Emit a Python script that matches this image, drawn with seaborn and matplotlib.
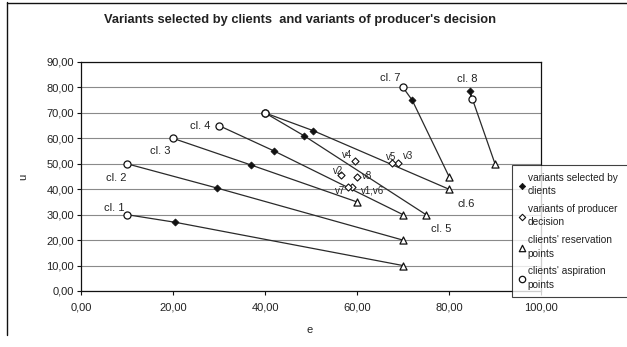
import matplotlib
matplotlib.use("Agg")
import matplotlib.pyplot as plt
import seaborn as sns
import pandas as pd
from matplotlib.lines import Line2D

# ---------------- data ----------------
clients = ["cl. 1", "cl. 2", "cl. 3", "cl. 4", "cl. 5", "cl.6", "cl. 7", "cl. 8"]
asp_e = [10, 10, 20, 30, 40, 40, 70, 85]
asp_u = [30, 50, 60, 65, 70, 70, 80, 75.5]
sel_e = [20.5, 29.5, 37, 42, 48.5, 50.5, 72, 84.5]
sel_u = [27, 40.5, 49.5, 55, 61, 63, 75, 78.5]
res_e = [70, 70, 60, 70, 75, 80, 80, 90]
res_u = [10, 20, 35, 30, 30, 40, 45, 50]

variants = ["v1,v6", "v2", "v3", "v4", "v5", "v7", "v8"]
var_e = [59, 56.5, 69, 59.5, 67.5, 58, 60]
var_u = [41, 45.5, 50.5, 51, 50.5, 41, 45]

x_ticks = [0, 20, 40, 60, 80, 100]
y_ticks = [0, 10, 20, 30, 40, 50, 60, 70, 80, 90]

# ---------------- style ----------------
sns.set_theme(style="white")
plt.rcParams["font.family"] = ["Liberation Sans", "DejaVu Sans"]
TXT = "#222222"

W, H = 627, 347
fig = plt.figure(figsize=(W / 100, H / 100), dpi=100)
ax = fig.add_axes([81 / W, 1 - 291 / H, 460 / W, 229 / H])

# lines per client: aspiration -> selected -> reservation
rows = []
for i, c in enumerate(clients):
    rows.append({"client": c, "order": 0, "e": asp_e[i], "u": asp_u[i]})
    rows.append({"client": c, "order": 1, "e": sel_e[i], "u": sel_u[i]})
    rows.append({"client": c, "order": 2, "e": res_e[i], "u": res_u[i]})
df = pd.DataFrame(rows)
sns.lineplot(data=df, x="e", y="u", units="client", estimator=None, sort=False,
             color="#2a2a2a", lw=0.9, ax=ax, legend=False, zorder=3)

sns.scatterplot(x=sel_e, y=sel_u, marker="D", s=13, color="#111111",
                edgecolor="#111111", linewidth=0.5, ax=ax, zorder=5,
                label="variants selected by\nclients")
sns.scatterplot(x=var_e, y=var_u, marker="D", s=13, color="white",
                edgecolor="#111111", linewidth=0.8, ax=ax, zorder=5,
                label="variants of producer\ndecision")
sns.scatterplot(x=res_e, y=res_u, marker="^", s=26, color="white",
                edgecolor="#111111", linewidth=0.9, ax=ax, zorder=5,
                label="clients' reservation\npoints")
sns.scatterplot(x=asp_e, y=asp_u, marker="o", s=26, color="white",
                edgecolor="#111111", linewidth=0.9, ax=ax, zorder=5,
                label="clients' aspiration\npoints")

# client labels (anchor point, offset in px, alignment)
PX = 0.72
lab_style = [
    ("asp", -3, 4, "right", "baseline"),
    ("asp", 0, -9, "right", "top"),
    ("asp", -3, -8, "right", "top"),
    ("asp", -9, 0, "right", "center"),
    ("res", 5, -9, "left", "top"),
    ("res", 8, -10, "left", "top"),
    ("asp", -3, 6, "right", "baseline"),
    ("sel", -2, 9, "center", "baseline"),
]
pts = {"asp": (asp_e, asp_u), "sel": (sel_e, sel_u), "res": (res_e, res_u)}
for i, c in enumerate(clients):
    k, dx, dy, ha, va = lab_style[i]
    ex, uy = pts[k]
    ax.annotate(c, (ex[i], uy[i]), xytext=(dx * PX, dy * PX), textcoords="offset points",
                ha=ha, va=va, fontsize=8, color=TXT, zorder=6)

var_off = [(20, -4), (-3, 4), (10, 7), (-8, 6), (0, 6), (-8, -4), (10, 0)]
for i, v in enumerate(variants):
    dx, dy = var_off[i]
    ax.annotate(v, (var_e[i], var_u[i]), xytext=(dx * PX, dy * PX), textcoords="offset points",
                ha="center", va="center", fontsize=7, color=TXT, zorder=6)

# axes
ax.set_xlim(0, 100)
ax.set_ylim(0, 90)
ax.set_xticks(x_ticks)
ax.set_yticks(y_ticks)
fmt = lambda v: f"{v:.2f}".replace(".", ",")
ax.set_xticklabels([fmt(v) for v in x_ticks])
ax.set_yticklabels([fmt(v) for v in y_ticks])
ax.tick_params(axis="both", which="both", bottom=True, left=True, direction="out",
               length=3, width=0.8, labelsize=8, labelcolor=TXT, color="#111111")
ax.tick_params(axis="x", pad=5)
ax.tick_params(axis="y", pad=2)
ax.yaxis.grid(True, color="#8a8a8a", lw=0.8)
ax.xaxis.grid(False)
for s in ax.spines.values():
    s.set_visible(True)
    s.set_color("#111111")
    s.set_linewidth(0.9)
ax.set_xlabel("")
ax.set_ylabel("")
fig.text(310 / W, 1 - 330 / H, "e", ha="center", va="center", fontsize=8, color=TXT)
fig.text(23 / W, 1 - 177 / H, "u", ha="center", va="center", fontsize=8, color=TXT, rotation=90)

fig.text(300 / W, 1 - 20 / H, "Variants selected by clients  and variants of producer's decision",
         ha="center", va="center", fontsize=9.3, fontweight="bold", color=TXT)

handles, labels = ax.get_legend_handles_labels()
leg = ax.legend(handles, labels, loc="upper left",
                bbox_to_anchor=(512 / W, 1 - 165 / H - 0.01, 130 / W, 0.01), mode="expand",
                bbox_transform=fig.transFigure, frameon=True, fancybox=False,
                edgecolor="#111111", fontsize=7.3, handlelength=0.5, handletextpad=0.3,
                borderpad=0.75, labelspacing=0.75, borderaxespad=0, markerscale=0.9)
leg.get_frame().set_linewidth(0.8)
leg.set_zorder(10)
for t in leg.get_texts():
    t.set_color(TXT)
    t.set_linespacing(1.45)

# chart-area border
fig.add_artist(Line2D([7 / W, 7 / W], [1 - 2 / H, 1 - 335 / H], transform=fig.transFigure,
                      color="#111111", lw=1))
fig.add_artist(Line2D([7 / W, 1], [1 - 3 / H, 1 - 3 / H], transform=fig.transFigure,
                      color="#111111", lw=1))

fig.savefig("out.png", dpi=100)
